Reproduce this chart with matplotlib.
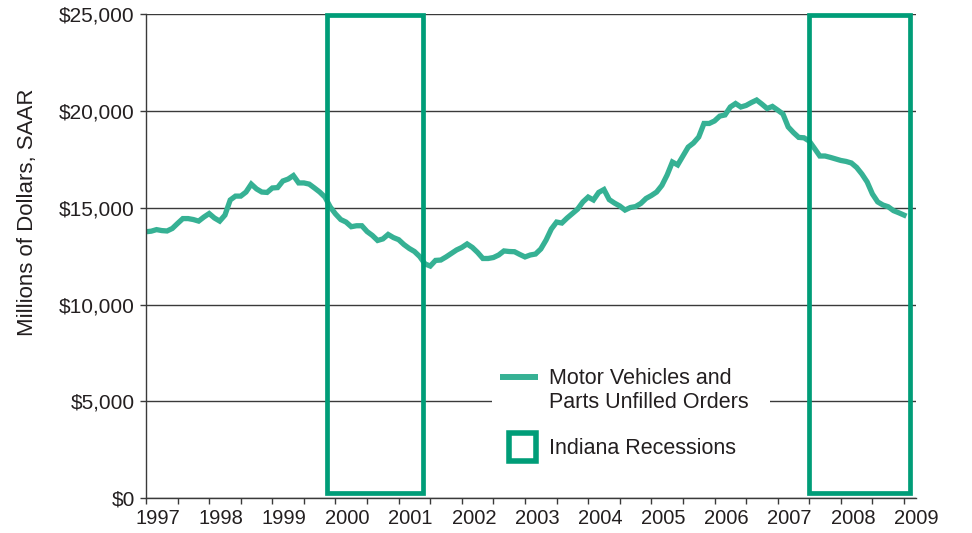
import matplotlib
matplotlib.use('Agg')
import matplotlib.pyplot as plt
from matplotlib.patches import Rectangle
from matplotlib.lines import Line2D

plt.rcParams['font.family'] = ['Liberation Sans', 'DejaVu Sans']

# monthly values, Jan 1997 .. Jan 2009 (millions of dollars, SAAR)
orders = [
    13760, 13790, 13870, 13820, 13800, 13930, 14190, 14440, 14440, 14390, 14310, 14520,
    14700, 14470, 14310, 14620, 15400, 15600, 15600, 15810, 16220, 15970, 15810, 15790,
    16020, 16040, 16380, 16480, 16660, 16280, 16280, 16220, 16020, 15810, 15550, 15040,
    14680, 14390, 14260, 14020, 14070, 14070, 13770, 13570, 13310, 13390, 13620, 13460,
    13350, 13100, 12900, 12740, 12480, 12100, 11990, 12280, 12300, 12460, 12640, 12820,
    12950, 13130, 12950, 12690, 12380, 12380, 12430, 12560, 12770, 12740, 12730, 12590,
    12460, 12560, 12610, 12870, 13330, 13900, 14260, 14210, 14470, 14700, 14930, 15300,
    15550, 15400, 15790, 15940, 15420, 15240, 15090, 14880, 15010, 15060, 15220, 15480,
    15630, 15810, 16150, 16690, 17360, 17210, 17670, 18130, 18340, 18650, 19350, 19350,
    19480, 19730, 19790, 20200, 20380, 20200, 20280, 20430, 20560, 20350, 20120, 20230,
    20040, 19840, 19170, 18880, 18630, 18610, 18440, 18060, 17670, 17670, 17600, 17520,
    17440, 17390, 17310, 17080, 16740, 16330, 15710, 15300, 15140, 15050, 14850, 14740,
    14620,
]
years = [1997 + i / 12 for i in range(len(orders))]

recession_start = [1999.87, 2007.50]
recession_end = [2001.38, 2009.09]

year_labels = [str(y) for y in range(1997, 2010)]
y_ticks = [0, 5000, 10000, 15000, 20000, 25000]
y_labels = ['$0', '$5,000', '$10,000', '$15,000', '$20,000', '$25,000']

line_color = '#36b194'
box_color = '#009d78'
text_color = '#231f20'
grid_color = '#3a3a3a'

fig = plt.figure(figsize=(9.72, 5.33), dpi=100)
ax = fig.add_axes([0.1502, 0.0651, 0.7922, 0.9086])

ax.plot(years, orders, color=line_color, lw=3.8, solid_joinstyle='miter', zorder=2)

for x0, x1 in zip(recession_start, recession_end):
    ax.add_patch(Rectangle((x0, 250), x1 - x0, 24700, fill=False,
                           edgecolor=box_color, lw=3.4, zorder=3, clip_on=False))

ax.set_xlim(1997, 2009.05)
ax.set_ylim(0, 25000)

ax.set_yticks(y_ticks)
ax.set_yticklabels(y_labels)
ax.set_xticks([1997 + k / 2 for k in range(25)])
ax.set_xticklabels([])
ax.set_xticks([int(s) + 0.19 for s in year_labels], minor=True)
ax.set_xticklabels(year_labels, minor=True)

ax.tick_params(axis='y', length=4, width=1, color=grid_color, pad=4,
               labelsize=15, labelcolor=text_color)
ax.tick_params(axis='x', which='major', length=4, width=1, color=grid_color)
ax.tick_params(axis='x', which='minor', length=0, pad=7.5,
               labelsize=14.5, labelcolor=text_color)

ax.grid(axis='y', color=grid_color, lw=1)
ax.set_axisbelow(True)
for s in ['top', 'right']:
    ax.spines[s].set_visible(False)
for s in ['left', 'bottom']:
    ax.spines[s].set_color(grid_color)
    ax.spines[s].set_linewidth(1)

fig.text(0.028, 0.602, 'Millions of Dollars, SAAR', rotation=90, fontsize=16,
         color=text_color, ha='center', va='center')

# legend drawn by hand (pixel positions / figure size)
W, H = 972, 533
ax.add_patch(Rectangle((492 / W, 1 - 470 / H), 278 / W, 110 / H, transform=fig.transFigure,
                       facecolor='white', edgecolor='none', zorder=1.5))
ax.add_line(Line2D([500 / W, 538 / W], [1 - 377 / H, 1 - 377 / H], transform=fig.transFigure,
                   color=line_color, lw=4.3, solid_capstyle='butt', zorder=4))
ax.add_patch(Rectangle((509 / W, 1 - 460.5 / H), 27 / W, 27.5 / H, transform=fig.transFigure,
                       fill=False, edgecolor=box_color, lw=4, zorder=4))
fig.text(549 / W, 1 - 378 / H, 'Motor Vehicles and', fontsize=15.5, color=text_color, va='center')
fig.text(549 / W, 1 - 403 / H, 'Parts Unfilled Orders', fontsize=15.5, color=text_color, va='center')
fig.text(549 / W, 1 - 449 / H, 'Indiana Recessions', fontsize=15.5, color=text_color, va='center')

fig.savefig('out.png', dpi=100)
